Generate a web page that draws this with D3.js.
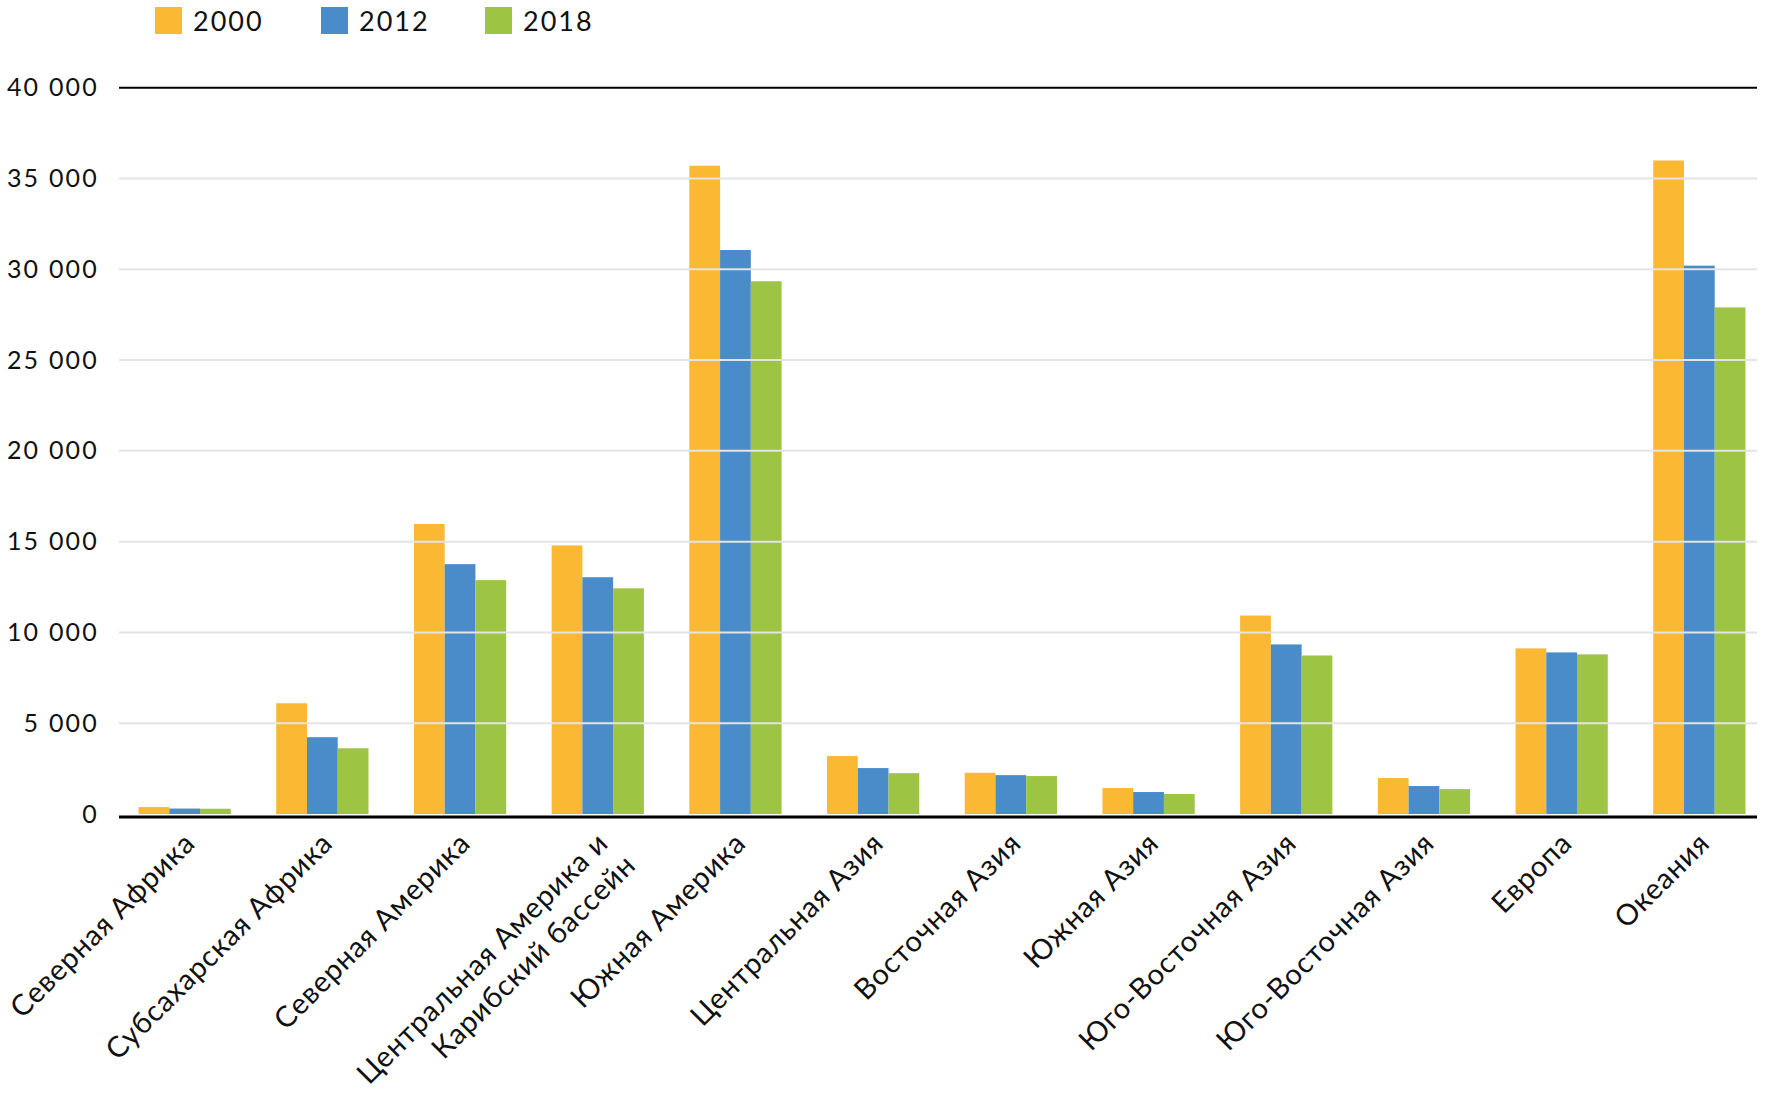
<!DOCTYPE html>
<html>
<head>
<meta charset="utf-8">
<script src="https://cdn.jsdelivr.net/npm/d3@7"></script>
<style>
  html, body { margin: 0; padding: 0; background: #ffffff; }
  svg { display: block; }
  text { font-family: "Lato", "Open Sans", sans-serif; fill: #111; }
</style>
</head>
<body>
<svg id="chart" width="1765" height="1099"></svg>
<script>
const categories = [
  "Северная Африка",
  "Субсахарская Африка",
  "Северная Америка",
  "Центральная Америка и\nКарибский бассейн",
  "Южная Америка",
  "Центральная Азия",
  "Восточная Азия",
  "Южная Азия",
  "Юго-Восточная Азия",
  "Юго-Восточная Азия ",
  "Европа",
  "Океания"
];
const seriesNames = ["2000", "2012", "2018"];
const values2000 = [380, 6100, 15970, 14790, 35700, 3190, 2270, 1430, 10930, 1980, 9120, 35990];
const values2012 = [300, 4230, 13760, 13040, 31060, 2530, 2140, 1210, 9340, 1540, 8900, 30200];
const values2018 = [290, 3620, 12880, 12430, 29340, 2250, 2090, 1100, 8730, 1370, 8790, 27900];
const seriesColors = ["#fbb832", "#4a8bca", "#9dc443"];
const yTicks = [0, 5000, 10000, 15000, 20000, 25000, 30000, 35000, 40000];
const yTickLabels = ["0", "5 000", "10 000", "15 000", "20 000", "25 000", "30 000", "35 000", "40 000"];

const seriesValues = [values2000, values2012, values2018];
const svg = d3.select("#chart");

const plotLeft = 119, plotRight = 1757;
const x0 = d3.scaleBand().domain(categories).range([115.8, 1768.2]).paddingInner(0.33).paddingOuter(0.165);
const x1 = d3.scaleBand().domain(seriesNames).range([0, x0.bandwidth()]);
const y = d3.scaleLinear().domain([0, 40000]).range([814, 87.7]);
const color = d3.scaleOrdinal().domain(seriesNames).range(seriesColors);

// bars
const rows = categories.map((c, i) => ({ cat: c, vals: seriesNames.map((s, j) => ({ key: s, value: seriesValues[j][i] })) }));
const groups = svg.append("g").selectAll("g").data(rows).join("g")
  .attr("transform", d => `translate(${x0(d.cat)},0)`);
groups.selectAll("rect").data(d => d.vals).join("rect")
  .attr("x", d => x1(d.key))
  .attr("width", x1.bandwidth())
  .attr("y", d => y(d.value))
  .attr("height", d => y(0) - y(d.value))
  .attr("fill", d => color(d.key));

// gridlines over bars
svg.append("g").selectAll("line").data(yTicks.filter(t => t > 0 && t < 40000)).join("line")
  .attr("x1", plotLeft).attr("x2", plotRight)
  .attr("y1", d => y(d)).attr("y2", d => y(d))
  .attr("stroke", "#e4e4e4").attr("stroke-width", 2);
// top line
svg.append("line").attr("x1", plotLeft).attr("x2", plotRight)
  .attr("y1", y(40000)).attr("y2", y(40000))
  .attr("stroke", "#000").attr("stroke-width", 2);
// bottom axis line
svg.append("line").attr("x1", plotLeft).attr("x2", plotRight)
  .attr("y1", y(0) + 3).attr("y2", y(0) + 3)
  .attr("stroke", "#000").attr("stroke-width", 3);

// y axis labels
const yAxis = d3.axisLeft(y).tickValues(yTicks).tickSize(0).tickPadding(0)
  .tickFormat((d, i) => yTickLabels[i]);
const yg = svg.append("g").attr("transform", "translate(99,0)").call(yAxis);
yg.select(".domain").remove();
yg.selectAll("text")
  .attr("font-family", "Lato, sans-serif")
  .attr("font-size", 25)
  .attr("letter-spacing", 2.2)
  .attr("fill", "#111")
  .attr("dy", "0.32em");

// x labels
const xl = svg.append("g");
categories.forEach(c => {
  const cx = x0(c) + x0.bandwidth() / 2;
  const t = xl.append("text")
    .attr("transform", `translate(${cx + 12},${845}) rotate(-45)`)
    .attr("text-anchor", "end")
    .attr("font-size", 29)
    .attr("letter-spacing", 0.8)
    .attr("fill", "#111");
  c.split("\n").forEach((line, k) => {
    t.append("tspan").attr("x", k === 0 ? 0 : 4).attr("dy", k === 0 ? 0 : 35).text(line.trim());
  });
});

// legend
const legendX = [155, 321, 485];
const lg = svg.append("g");
seriesNames.forEach((s, i) => {
  lg.append("rect").attr("x", legendX[i]).attr("y", 7).attr("width", 27).attr("height", 27).attr("fill", color(s));
  lg.append("text").attr("x", legendX[i] + 38).attr("y", 31)
    .attr("font-size", 27).attr("letter-spacing", 2).attr("fill", "#111").text(s);
});
</script>
</body>
</html>
